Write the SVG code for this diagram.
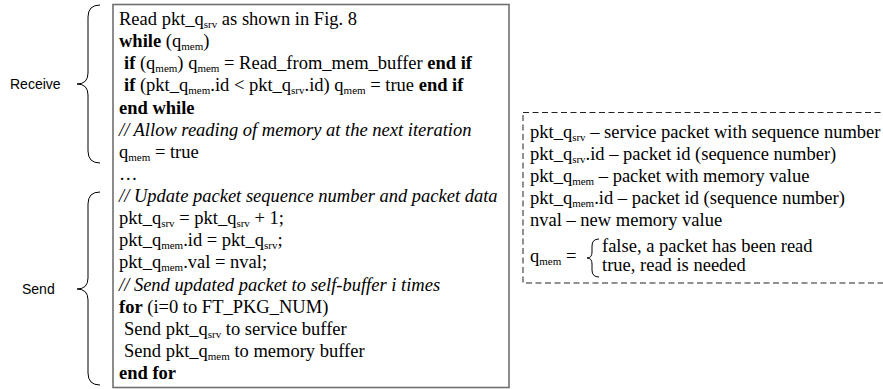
<svg xmlns="http://www.w3.org/2000/svg" width="883" height="389" viewBox="0 0 883 389">
  <style>
    .code { font-family: "Liberation Serif", "Times New Roman", serif; font-size: 18.5px; fill: #000; }
    .lbl { font-family: "Liberation Sans", Arial, sans-serif; font-size: 14px; fill: #000; }
    .b { font-weight: bold; }
    .i { font-style: italic; }
    .s { font-size: 11px; }
    .brace { fill: none; stroke: #000; stroke-width: 1; }
  </style>
  <rect width="883" height="389" fill="#fff"/>

  <!-- section braces and labels -->
  <g id="receive">
    <path class="brace" d="M100,5 Q88,5 88,17 L88,73 Q88,84 77,84 Q88,84 88,95 L88,151 Q88,163 100,163"/>
    <text class="lbl" x="10" y="89">Receive</text>
  </g>
  <g id="send">
    <path class="brace" d="M100,192 Q88,192 88,204 L88,278 Q88,289 77,289 Q88,289 88,300 L88,373 Q88,385 100,385"/>
    <text class="lbl" x="22" y="294">Send</text>
  </g>

  <!-- pseudocode listing -->
  <g id="listing">
    <rect x="113" y="4.5" width="396" height="383" fill="#fff" stroke="#707070" stroke-width="1.6"/>
    <text class="code" x="119" y="25">Read pkt_q<tspan class="s" dy="3">srv</tspan><tspan dy="-3"> as shown in Fig. 8</tspan></text>
    <text class="code" x="119" y="47"><tspan class="b">while</tspan> (q<tspan class="s" dy="3">mem</tspan><tspan dy="-3">)</tspan></text>
    <text class="code" x="124" y="69"><tspan class="b">if</tspan> (q<tspan class="s" dy="3">mem</tspan><tspan dy="-3">) q</tspan><tspan class="s" dy="3">mem</tspan><tspan dy="-3"> = Read_from_mem_buffer </tspan><tspan class="b">end if</tspan></text>
    <text class="code" x="124" y="91"><tspan class="b">if</tspan> (pkt_q<tspan class="s" dy="3">mem</tspan><tspan dy="-3">.id &lt; pkt_q</tspan><tspan class="s" dy="3">srv</tspan><tspan dy="-3">.id) q</tspan><tspan class="s" dy="3">mem</tspan><tspan dy="-3"> = true </tspan><tspan class="b">end if</tspan></text>
    <text class="code b" x="119" y="114">end while</text>
    <text class="code i" x="119" y="136">// Allow reading of memory at the next iteration</text>
    <text class="code" x="119" y="158">q<tspan class="s" dy="3">mem</tspan><tspan dy="-3"> = true</tspan></text>
    <text class="code" x="119" y="180">…</text>
    <text class="code i" x="119" y="202">// Update packet sequence number and packet data</text>
    <text class="code" x="119" y="224">pkt_q<tspan class="s" dy="3">srv</tspan><tspan dy="-3"> = pkt_q</tspan><tspan class="s" dy="3">srv</tspan><tspan dy="-3"> + 1;</tspan></text>
    <text class="code" x="119" y="246">pkt_q<tspan class="s" dy="3">mem</tspan><tspan dy="-3">.id = pkt_q</tspan><tspan class="s" dy="3">srv</tspan><tspan dy="-3">;</tspan></text>
    <text class="code" x="119" y="268">pkt_q<tspan class="s" dy="3">mem</tspan><tspan dy="-3">.val = nval;</tspan></text>
    <text class="code i" x="119" y="291">// Send updated packet to self-buffer i times</text>
    <text class="code" x="119" y="313"><tspan class="b">for</tspan> (i=0 to FT_PKG_NUM)</text>
    <text class="code" x="124" y="335">Send pkt_q<tspan class="s" dy="3">srv</tspan><tspan dy="-3"> to service buffer</tspan></text>
    <text class="code" x="124" y="357">Send pkt_q<tspan class="s" dy="3">mem</tspan><tspan dy="-3"> to memory buffer</tspan></text>
    <text class="code b" x="119" y="379">end for</text>
  </g>

  <!-- legend of symbols -->
  <g id="legend">
    <rect x="523" y="112.5" width="380" height="170.5" fill="none" stroke="#222" stroke-width="1" stroke-dasharray="6 3.5"/>
    <text class="code" x="530" y="138">pkt_q<tspan class="s" dy="3">srv</tspan><tspan dy="-3"> – service packet with sequence number</tspan></text>
    <text class="code" x="530" y="160">pkt_q<tspan class="s" dy="3">srv</tspan><tspan dy="-3">.id – packet id (sequence number)</tspan></text>
    <text class="code" x="530" y="182">pkt_q<tspan class="s" dy="3">mem</tspan><tspan dy="-3"> – packet with memory value</tspan></text>
    <text class="code" x="530" y="204">pkt_q<tspan class="s" dy="3">mem</tspan><tspan dy="-3">.id – packet id (sequence number)</tspan></text>
    <text class="code" x="530" y="226">nval – new memory value</text>
    <text class="code" x="530" y="262">q<tspan class="s" dy="3">mem</tspan><tspan dy="-3"> =</tspan></text>
    <path class="brace" d="M599,239 Q592,239 592,246 L592,252 Q592,258 587,258 Q592,258 592,264 L592,270 Q592,277 599,277"/>
    <text class="code" x="602" y="252">false, a packet has been read</text>
    <text class="code" x="602" y="271">true, read is needed</text>
  </g>
</svg>
